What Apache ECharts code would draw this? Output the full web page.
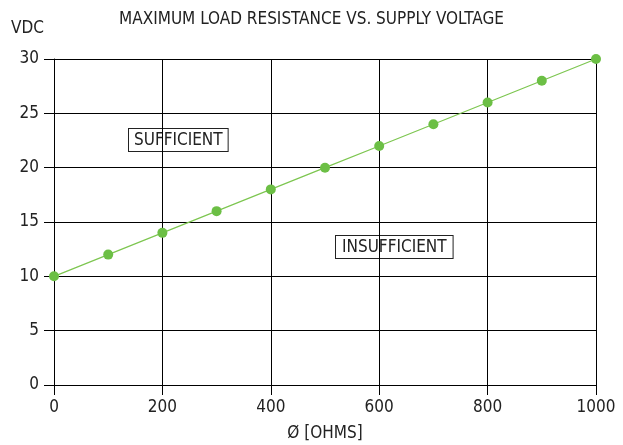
<!DOCTYPE html>
<html>
<head>
<meta charset="utf-8">
<script src="https://cdn.jsdelivr.net/npm/echarts@6/dist/echarts.min.js"></script>
<style>
  html, body { margin: 0; padding: 0; background: #fff; }
  #chart { width: 623px; height: 445px; }
</style>
</head>
<body>
<div id="chart"></div>
<script>
// data
var ohms = [0, 100, 200, 300, 400, 500, 600, 700, 800, 900, 1000];
var vdc = [10, 12, 14, 16, 18, 20, 22, 24, 26, 28, 30];
var regionLabels = ['SUFFICIENT', 'INSUFFICIENT'];

var font = '"Liberation Sans Narrow", "Arial Narrow", "DejaVu Sans Condensed", sans-serif';
var green = '#6cbf45';

var points = ohms.map(function (x, i) { return [x, vdc[i]]; });

var myChart = echarts.init(document.getElementById('chart'));
var option = {
  backgroundColor: '#fff',
  animation: false,
  title: {
    text: 'MAXIMUM LOAD RESISTANCE VS. SUPPLY VOLTAGE',
    left: 'center',
    top: 6,
    textStyle: { fontFamily: font, fontSize: 17, fontWeight: 'normal', color: '#222' }
  },
  grid: { left: 54, right: 27, top: 59, bottom: 60, outerBoundsMode: 'none' },
  xAxis: {
    type: 'value',
    min: 0, max: 1000, interval: 200,
    name: 'Ø [OHMS]',
    nameLocation: 'middle',
    nameGap: 40,
    nameTextStyle: { fontFamily: font, fontSize: 17, color: '#222' },
    axisLine: { lineStyle: { color: '#000', width: 1 } },
    axisTick: { show: true, length: 10, lineStyle: { color: '#000' } },
    axisLabel: { fontFamily: font, fontSize: 17, color: '#222', margin: 14,
      formatter: function (v) { return String(v); } },
    splitLine: { show: true, lineStyle: { color: '#000', width: 1 } }
  },
  yAxis: {
    type: 'value',
    min: 0, max: 30, interval: 5,
    axisLine: { show: true, lineStyle: { color: '#000', width: 1 } },
    axisTick: { show: true, length: 10, lineStyle: { color: '#000' } },
    axisLabel: { fontFamily: font, fontSize: 17, color: '#222', margin: 15 },
    splitLine: { show: true, lineStyle: { color: '#000', width: 1 } }
  },
  graphic: [
    {
      type: 'text', left: 11, top: 20,
      style: { text: 'VDC', font: '17px ' + font, fill: '#222' }
    },
    {
      type: 'text', left: 128, top: 128,
      style: {
        text: regionLabels[0], font: '17px ' + font, fill: '#222',
        backgroundColor: '#fff', borderColor: '#222', borderWidth: 1,
        padding: [3, 5, 2, 5]
      }
    },
    {
      type: 'text', left: 335, top: 235,
      style: {
        text: regionLabels[1], font: '17px ' + font, fill: '#222',
        backgroundColor: '#fff', borderColor: '#222', borderWidth: 1,
        padding: [3, 6, 2, 6]
      }
    }
  ],
  series: [
    {
      type: 'line',
      data: points,
      symbol: 'circle',
      symbolSize: 10,
      itemStyle: { color: green },
      lineStyle: { color: '#7dc650', width: 1.2 },
      z: 5
    }
  ]
};
myChart.setOption(option);
</script>
</body>
</html>
